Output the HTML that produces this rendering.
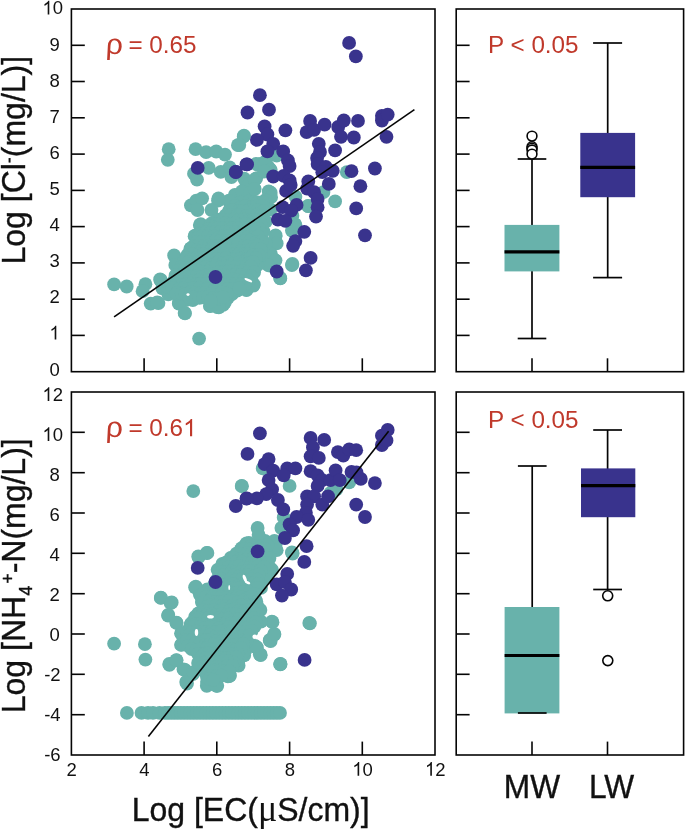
<!DOCTYPE html>
<html><head><meta charset="utf-8"><title>chart</title>
<style>html,body{margin:0;padding:0;background:#fff;}body{width:685px;height:829px;position:relative;overflow:hidden;font-family:"Liberation Sans",sans-serif;}</style>
</head><body>
<svg width="685" height="829" viewBox="0 0 685 829" style="position:absolute;left:0;top:0;will-change:transform" font-family="Liberation Sans, sans-serif">
<rect width="685" height="829" fill="#fff"/>
<g fill="#68b2ab">
<circle cx="168.7" cy="149.2" r="6.9"/>
<circle cx="167.8" cy="159.8" r="6.9"/>
<circle cx="195.6" cy="149.2" r="6.9"/>
<circle cx="206.1" cy="152.2" r="6.9"/>
<circle cx="216.2" cy="151.5" r="6.9"/>
<circle cx="225" cy="154.6" r="6.9"/>
<circle cx="237.9" cy="145.2" r="6.9"/>
<circle cx="243.7" cy="136.4" r="6.9"/>
<circle cx="208.7" cy="167.9" r="6.9"/>
<circle cx="220.8" cy="171.9" r="6.9"/>
<circle cx="231.4" cy="177" r="6.9"/>
<circle cx="194" cy="173.7" r="6.9"/>
<circle cx="197" cy="179.6" r="6.9"/>
<circle cx="229.6" cy="167.4" r="6.9"/>
<circle cx="190.9" cy="205.3" r="6.9"/>
<circle cx="196.3" cy="200.6" r="6.9"/>
<circle cx="202.1" cy="198.3" r="6.9"/>
<circle cx="197.5" cy="210" r="6.9"/>
<circle cx="218" cy="200.6" r="6.9"/>
<circle cx="211.5" cy="210" r="6.9"/>
<circle cx="234.9" cy="197.1" r="6.9"/>
<circle cx="229.6" cy="202.4" r="6.9"/>
<circle cx="199.8" cy="225.1" r="6.9"/>
<circle cx="195.1" cy="235.7" r="6.9"/>
<circle cx="216.2" cy="225.1" r="6.9"/>
<circle cx="174.1" cy="255.5" r="6.9"/>
<circle cx="175.3" cy="264.9" r="6.9"/>
<circle cx="190.5" cy="250.8" r="6.9"/>
<circle cx="185.8" cy="257.9" r="6.9"/>
<circle cx="160.1" cy="279.5" r="6.9"/>
<circle cx="114.1" cy="284.4" r="6.9"/>
<circle cx="126.7" cy="286.5" r="6.9"/>
<circle cx="145.4" cy="284.2" r="6.9"/>
<circle cx="142.6" cy="291.2" r="6.9"/>
<circle cx="160.8" cy="280.2" r="6.9"/>
<circle cx="150.7" cy="303.6" r="6.9"/>
<circle cx="158.5" cy="303.1" r="6.9"/>
<circle cx="162.4" cy="288.4" r="6.9"/>
<circle cx="168.3" cy="294.3" r="6.9"/>
<circle cx="178.8" cy="303.6" r="6.9"/>
<circle cx="184.6" cy="312.9" r="6.9"/>
<circle cx="185.8" cy="300.1" r="6.9"/>
<circle cx="192.8" cy="300.1" r="6.9"/>
<circle cx="199.1" cy="338.6" r="6.9"/>
<circle cx="209.9" cy="305.9" r="6.9"/>
<circle cx="217.3" cy="307.1" r="6.9"/>
<circle cx="223.2" cy="304.8" r="6.9"/>
<circle cx="227.9" cy="297.8" r="6.9"/>
<circle cx="237.2" cy="290.7" r="6.9"/>
<circle cx="246.5" cy="289.6" r="6.9"/>
<circle cx="202.1" cy="294.3" r="6.9"/>
<circle cx="171.8" cy="283.7" r="6.9"/>
<circle cx="183.5" cy="283.7" r="6.9"/>
<circle cx="244" cy="135.7" r="6.9"/>
<circle cx="239.3" cy="145" r="6.9"/>
<circle cx="276.7" cy="155.5" r="6.9"/>
<circle cx="265" cy="162.5" r="6.9"/>
<circle cx="258" cy="164.9" r="6.9"/>
<circle cx="269.7" cy="169.5" r="6.9"/>
<circle cx="346.8" cy="172.2" r="6.9"/>
<circle cx="335.1" cy="201.4" r="6.9"/>
<circle cx="323.5" cy="192.1" r="6.9"/>
<circle cx="308.3" cy="206.1" r="6.9"/>
<circle cx="295.4" cy="224.8" r="6.9"/>
<circle cx="291.9" cy="230.6" r="6.9"/>
<circle cx="275.6" cy="235.3" r="6.9"/>
<circle cx="275.6" cy="242.3" r="6.9"/>
<circle cx="270.9" cy="254" r="6.9"/>
<circle cx="274.4" cy="259.8" r="6.9"/>
<circle cx="269.7" cy="265.7" r="6.9"/>
<circle cx="291.9" cy="265" r="6.9"/>
<circle cx="280.2" cy="278" r="6.9"/>
<circle cx="295.4" cy="196.7" r="6.9"/>
<circle cx="269.7" cy="193.2" r="6.9"/>
<circle cx="260.4" cy="164" r="6.9"/>
<circle cx="268.6" cy="167.5" r="6.9"/>
<circle cx="275.6" cy="154.7" r="6.9"/>
<circle cx="253.4" cy="285.5" r="6.9"/>
<circle cx="246.4" cy="290.2" r="6.9"/>
<circle cx="234.7" cy="287.9" r="6.9"/>
<circle cx="246.5" cy="185.5" r="6.9"/>
<circle cx="256.2" cy="178.3" r="6.9"/>
<circle cx="251.4" cy="200" r="6.9"/>
<circle cx="256.2" cy="163.8" r="6.9"/>
<circle cx="265.8" cy="161.4" r="6.9"/>
<circle cx="270.7" cy="169.8" r="6.9"/>
<circle cx="270.7" cy="209.6" r="6.9"/>
<circle cx="270.7" cy="192.7" r="6.9"/>
<circle cx="265.8" cy="200" r="6.9"/>
<circle cx="275.5" cy="236.2" r="6.9"/>
<circle cx="276.7" cy="243.4" r="6.9"/>
<circle cx="269.5" cy="253.1" r="6.9"/>
<circle cx="275.5" cy="260.3" r="6.9"/>
<circle cx="268.2" cy="265.1" r="6.9"/>
<circle cx="292.4" cy="263.9" r="6.9"/>
<circle cx="280.3" cy="278.4" r="6.9"/>
<circle cx="294.8" cy="224.1" r="6.9"/>
<circle cx="292.4" cy="215.7" r="6.9"/>
<circle cx="308.1" cy="206" r="6.9"/>
<circle cx="263.4" cy="231.4" r="6.9"/>
<circle cx="265.8" cy="221.7" r="6.9"/>
<circle cx="265.8" cy="243.4" r="6.9"/>
<circle cx="261" cy="255.5" r="6.9"/>
<circle cx="257.4" cy="265.1" r="6.9"/>
<circle cx="251.4" cy="274.8" r="6.9"/>
<circle cx="253.8" cy="284.4" r="6.9"/>
<circle cx="232" cy="294.1" r="6.9"/>
<circle cx="224.8" cy="302.5" r="6.9"/>
<circle cx="210.3" cy="306.2" r="6.9"/>
<circle cx="218.8" cy="307.4" r="6.9"/>
<circle cx="179" cy="302.5" r="6.9"/>
<circle cx="185" cy="313.4" r="6.9"/>
<circle cx="157.2" cy="302.5" r="6.9"/>
<circle cx="168.1" cy="286.9" r="6.9"/>
<circle cx="160.9" cy="280.8" r="6.9"/>
<circle cx="186.2" cy="260.3" r="6.9"/>
<circle cx="191" cy="248.2" r="6.9"/>
<circle cx="194.6" cy="236.2" r="6.9"/>
<circle cx="200.7" cy="224.1" r="6.9"/>
<circle cx="244.2" cy="178.6" r="6.9"/>
<circle cx="248.9" cy="184.4" r="6.9"/>
<circle cx="254.7" cy="179.7" r="6.9"/>
<circle cx="264.1" cy="171.5" r="6.9"/>
<circle cx="268.7" cy="191.4" r="6.9"/>
<circle cx="271.1" cy="197.2" r="6.9"/>
<circle cx="266.4" cy="200.7" r="6.9"/>
<circle cx="234.9" cy="194.9" r="6.9"/>
<circle cx="229" cy="200.7" r="6.9"/>
<circle cx="241.9" cy="191.4" r="6.9"/>
<circle cx="250" cy="192.6" r="6.9"/>
<circle cx="254.7" cy="189" r="6.9"/>
<circle cx="218.5" cy="198.4" r="6.9"/>
<circle cx="243.1" cy="201.6" r="6.9"/>
<circle cx="248.8" cy="201.5" r="6.9"/>
<circle cx="253.6" cy="202.1" r="6.9"/>
<circle cx="257.6" cy="202.3" r="6.9"/>
<circle cx="262.6" cy="202.2" r="6.9"/>
<circle cx="235.1" cy="205.8" r="6.9"/>
<circle cx="240.8" cy="207.3" r="6.9"/>
<circle cx="245.2" cy="206.1" r="6.9"/>
<circle cx="251.3" cy="207.6" r="6.9"/>
<circle cx="256.2" cy="206.5" r="6.9"/>
<circle cx="262.0" cy="205.8" r="6.9"/>
<circle cx="229.2" cy="210.6" r="6.9"/>
<circle cx="232.8" cy="210.2" r="6.9"/>
<circle cx="238.1" cy="211.6" r="6.9"/>
<circle cx="242.9" cy="211.2" r="6.9"/>
<circle cx="248.8" cy="210.7" r="6.9"/>
<circle cx="253.6" cy="210.1" r="6.9"/>
<circle cx="257.6" cy="210.4" r="6.9"/>
<circle cx="263.9" cy="210.8" r="6.9"/>
<circle cx="225.6" cy="215.5" r="6.9"/>
<circle cx="230.9" cy="214.9" r="6.9"/>
<circle cx="236.6" cy="215.7" r="6.9"/>
<circle cx="240.5" cy="215.5" r="6.9"/>
<circle cx="246.1" cy="216.1" r="6.9"/>
<circle cx="251.5" cy="214.9" r="6.9"/>
<circle cx="257.0" cy="214.6" r="6.9"/>
<circle cx="260.8" cy="215.8" r="6.9"/>
<circle cx="217.8" cy="219.6" r="6.9"/>
<circle cx="222.6" cy="220.0" r="6.9"/>
<circle cx="229.0" cy="219.8" r="6.9"/>
<circle cx="234.3" cy="219.3" r="6.9"/>
<circle cx="238.9" cy="219.8" r="6.9"/>
<circle cx="243.7" cy="219.6" r="6.9"/>
<circle cx="249.2" cy="220.5" r="6.9"/>
<circle cx="253.4" cy="220.0" r="6.9"/>
<circle cx="257.6" cy="220.1" r="6.9"/>
<circle cx="263.8" cy="220.6" r="6.9"/>
<circle cx="211.6" cy="223.5" r="6.9"/>
<circle cx="215.8" cy="224.3" r="6.9"/>
<circle cx="220.0" cy="223.9" r="6.9"/>
<circle cx="225.3" cy="223.2" r="6.9"/>
<circle cx="230.1" cy="224.5" r="6.9"/>
<circle cx="235.3" cy="223.5" r="6.9"/>
<circle cx="240.8" cy="224.7" r="6.9"/>
<circle cx="245.2" cy="223.9" r="6.9"/>
<circle cx="251.1" cy="224.7" r="6.9"/>
<circle cx="256.6" cy="224.7" r="6.9"/>
<circle cx="260.6" cy="223.8" r="6.9"/>
<circle cx="208.2" cy="229.1" r="6.9"/>
<circle cx="214.4" cy="227.6" r="6.9"/>
<circle cx="217.9" cy="227.8" r="6.9"/>
<circle cx="223.0" cy="228.3" r="6.9"/>
<circle cx="228.7" cy="227.8" r="6.9"/>
<circle cx="232.5" cy="228.1" r="6.9"/>
<circle cx="238.2" cy="228.4" r="6.9"/>
<circle cx="244.4" cy="228.7" r="6.9"/>
<circle cx="248.5" cy="228.5" r="6.9"/>
<circle cx="253.9" cy="227.4" r="6.9"/>
<circle cx="259.3" cy="228.9" r="6.9"/>
<circle cx="201.7" cy="233.2" r="6.9"/>
<circle cx="205.8" cy="232.4" r="6.9"/>
<circle cx="210.2" cy="232.9" r="6.9"/>
<circle cx="215.1" cy="231.8" r="6.9"/>
<circle cx="220.4" cy="232.0" r="6.9"/>
<circle cx="225.7" cy="231.7" r="6.9"/>
<circle cx="230.0" cy="231.9" r="6.9"/>
<circle cx="235.2" cy="232.4" r="6.9"/>
<circle cx="240.1" cy="233.4" r="6.9"/>
<circle cx="246.2" cy="231.9" r="6.9"/>
<circle cx="250.5" cy="232.3" r="6.9"/>
<circle cx="255.7" cy="231.9" r="6.9"/>
<circle cx="261.7" cy="233.6" r="6.9"/>
<circle cx="198.4" cy="236.9" r="6.9"/>
<circle cx="202.7" cy="236.2" r="6.9"/>
<circle cx="208.2" cy="236.5" r="6.9"/>
<circle cx="214.2" cy="236.3" r="6.9"/>
<circle cx="217.5" cy="237.9" r="6.9"/>
<circle cx="223.6" cy="236.3" r="6.9"/>
<circle cx="228.6" cy="236.0" r="6.9"/>
<circle cx="233.6" cy="237.9" r="6.9"/>
<circle cx="239.2" cy="237.4" r="6.9"/>
<circle cx="243.0" cy="236.7" r="6.9"/>
<circle cx="247.8" cy="237.5" r="6.9"/>
<circle cx="253.6" cy="237.5" r="6.9"/>
<circle cx="258.2" cy="236.4" r="6.9"/>
<circle cx="196.6" cy="242.3" r="6.9"/>
<circle cx="201.7" cy="241.9" r="6.9"/>
<circle cx="206.6" cy="241.8" r="6.9"/>
<circle cx="210.5" cy="241.3" r="6.9"/>
<circle cx="215.7" cy="240.4" r="6.9"/>
<circle cx="220.1" cy="240.9" r="6.9"/>
<circle cx="225.5" cy="241.7" r="6.9"/>
<circle cx="231.9" cy="241.2" r="6.9"/>
<circle cx="236.9" cy="242.3" r="6.9"/>
<circle cx="241.9" cy="241.0" r="6.9"/>
<circle cx="245.4" cy="240.8" r="6.9"/>
<circle cx="250.4" cy="240.7" r="6.9"/>
<circle cx="256.2" cy="242.1" r="6.9"/>
<circle cx="261.7" cy="241.3" r="6.9"/>
<circle cx="193.8" cy="246.2" r="6.9"/>
<circle cx="197.7" cy="246.0" r="6.9"/>
<circle cx="204.3" cy="246.2" r="6.9"/>
<circle cx="209.0" cy="245.6" r="6.9"/>
<circle cx="212.9" cy="246.2" r="6.9"/>
<circle cx="218.2" cy="246.2" r="6.9"/>
<circle cx="224.4" cy="245.4" r="6.9"/>
<circle cx="228.3" cy="246.5" r="6.9"/>
<circle cx="233.9" cy="245.0" r="6.9"/>
<circle cx="237.8" cy="244.9" r="6.9"/>
<circle cx="244.3" cy="246.2" r="6.9"/>
<circle cx="247.8" cy="246.3" r="6.9"/>
<circle cx="254.5" cy="245.9" r="6.9"/>
<circle cx="258.2" cy="245.7" r="6.9"/>
<circle cx="190.3" cy="249.0" r="6.9"/>
<circle cx="196.9" cy="250.3" r="6.9"/>
<circle cx="201.1" cy="250.8" r="6.9"/>
<circle cx="205.9" cy="250.7" r="6.9"/>
<circle cx="211.7" cy="249.4" r="6.9"/>
<circle cx="215.5" cy="249.5" r="6.9"/>
<circle cx="220.5" cy="250.1" r="6.9"/>
<circle cx="225.5" cy="249.8" r="6.9"/>
<circle cx="230.3" cy="250.8" r="6.9"/>
<circle cx="235.7" cy="249.9" r="6.9"/>
<circle cx="241.2" cy="250.8" r="6.9"/>
<circle cx="245.8" cy="250.8" r="6.9"/>
<circle cx="251.0" cy="250.0" r="6.9"/>
<circle cx="256.0" cy="249.0" r="6.9"/>
<circle cx="260.9" cy="249.3" r="6.9"/>
<circle cx="187.5" cy="254.9" r="6.9"/>
<circle cx="192.8" cy="254.2" r="6.9"/>
<circle cx="199.0" cy="254.4" r="6.9"/>
<circle cx="203.2" cy="254.3" r="6.9"/>
<circle cx="208.6" cy="254.9" r="6.9"/>
<circle cx="212.7" cy="254.4" r="6.9"/>
<circle cx="218.0" cy="253.8" r="6.9"/>
<circle cx="224.0" cy="254.3" r="6.9"/>
<circle cx="228.6" cy="254.8" r="6.9"/>
<circle cx="234.3" cy="254.2" r="6.9"/>
<circle cx="238.7" cy="254.3" r="6.9"/>
<circle cx="243.5" cy="254.7" r="6.9"/>
<circle cx="248.4" cy="254.4" r="6.9"/>
<circle cx="253.5" cy="255.2" r="6.9"/>
<circle cx="258.9" cy="255.0" r="6.9"/>
<circle cx="186.9" cy="258.1" r="6.9"/>
<circle cx="191.1" cy="259.5" r="6.9"/>
<circle cx="196.7" cy="257.9" r="6.9"/>
<circle cx="200.2" cy="258.5" r="6.9"/>
<circle cx="205.1" cy="258.1" r="6.9"/>
<circle cx="210.1" cy="259.0" r="6.9"/>
<circle cx="216.6" cy="259.4" r="6.9"/>
<circle cx="220.3" cy="259.1" r="6.9"/>
<circle cx="226.3" cy="257.9" r="6.9"/>
<circle cx="231.8" cy="259.6" r="6.9"/>
<circle cx="235.4" cy="259.5" r="6.9"/>
<circle cx="240.8" cy="258.6" r="6.9"/>
<circle cx="247.0" cy="259.3" r="6.9"/>
<circle cx="250.3" cy="258.5" r="6.9"/>
<circle cx="256.0" cy="258.3" r="6.9"/>
<circle cx="182.9" cy="262.6" r="6.9"/>
<circle cx="188.9" cy="262.0" r="6.9"/>
<circle cx="193.6" cy="262.8" r="6.9"/>
<circle cx="197.5" cy="262.6" r="6.9"/>
<circle cx="203.7" cy="263.0" r="6.9"/>
<circle cx="207.6" cy="263.9" r="6.9"/>
<circle cx="214.1" cy="263.9" r="6.9"/>
<circle cx="217.7" cy="262.5" r="6.9"/>
<circle cx="222.6" cy="263.5" r="6.9"/>
<circle cx="228.0" cy="262.2" r="6.9"/>
<circle cx="233.3" cy="263.8" r="6.9"/>
<circle cx="239.1" cy="262.5" r="6.9"/>
<circle cx="242.8" cy="263.8" r="6.9"/>
<circle cx="248.6" cy="263.4" r="6.9"/>
<circle cx="252.7" cy="262.1" r="6.9"/>
<circle cx="181.4" cy="267.1" r="6.9"/>
<circle cx="185.1" cy="268.2" r="6.9"/>
<circle cx="191.3" cy="267.9" r="6.9"/>
<circle cx="195.2" cy="268.0" r="6.9"/>
<circle cx="200.1" cy="268.0" r="6.9"/>
<circle cx="205.9" cy="267.0" r="6.9"/>
<circle cx="211.1" cy="268.1" r="6.9"/>
<circle cx="215.5" cy="266.5" r="6.9"/>
<circle cx="221.1" cy="266.8" r="6.9"/>
<circle cx="225.2" cy="266.6" r="6.9"/>
<circle cx="230.1" cy="266.7" r="6.9"/>
<circle cx="235.6" cy="266.9" r="6.9"/>
<circle cx="241.5" cy="266.9" r="6.9"/>
<circle cx="246.0" cy="266.6" r="6.9"/>
<circle cx="250.7" cy="266.3" r="6.9"/>
<circle cx="178.0" cy="270.6" r="6.9"/>
<circle cx="184.0" cy="271.7" r="6.9"/>
<circle cx="187.9" cy="271.6" r="6.9"/>
<circle cx="194.4" cy="270.8" r="6.9"/>
<circle cx="199.1" cy="271.5" r="6.9"/>
<circle cx="203.5" cy="272.3" r="6.9"/>
<circle cx="208.3" cy="271.6" r="6.9"/>
<circle cx="213.9" cy="272.6" r="6.9"/>
<circle cx="218.2" cy="272.3" r="6.9"/>
<circle cx="223.9" cy="271.9" r="6.9"/>
<circle cx="228.3" cy="271.3" r="6.9"/>
<circle cx="232.6" cy="270.9" r="6.9"/>
<circle cx="237.6" cy="272.1" r="6.9"/>
<circle cx="243.0" cy="270.9" r="6.9"/>
<circle cx="247.7" cy="272.3" r="6.9"/>
<circle cx="254.2" cy="272.0" r="6.9"/>
<circle cx="175.6" cy="275.4" r="6.9"/>
<circle cx="180.6" cy="275.9" r="6.9"/>
<circle cx="185.3" cy="275.8" r="6.9"/>
<circle cx="190.5" cy="276.9" r="6.9"/>
<circle cx="196.9" cy="276.0" r="6.9"/>
<circle cx="200.5" cy="276.9" r="6.9"/>
<circle cx="205.6" cy="275.7" r="6.9"/>
<circle cx="210.0" cy="275.7" r="6.9"/>
<circle cx="215.9" cy="275.9" r="6.9"/>
<circle cx="220.4" cy="275.9" r="6.9"/>
<circle cx="225.0" cy="275.5" r="6.9"/>
<circle cx="230.2" cy="275.7" r="6.9"/>
<circle cx="235.1" cy="275.0" r="6.9"/>
<circle cx="240.6" cy="275.4" r="6.9"/>
<circle cx="246.2" cy="276.0" r="6.9"/>
<circle cx="251.5" cy="276.3" r="6.9"/>
<circle cx="173.9" cy="281.0" r="6.9"/>
<circle cx="178.3" cy="279.9" r="6.9"/>
<circle cx="184.5" cy="279.6" r="6.9"/>
<circle cx="188.9" cy="280.6" r="6.9"/>
<circle cx="192.6" cy="280.9" r="6.9"/>
<circle cx="199.3" cy="280.5" r="6.9"/>
<circle cx="204.0" cy="280.9" r="6.9"/>
<circle cx="207.8" cy="280.3" r="6.9"/>
<circle cx="213.5" cy="280.9" r="6.9"/>
<circle cx="219.1" cy="280.9" r="6.9"/>
<circle cx="223.7" cy="281.1" r="6.9"/>
<circle cx="228.9" cy="280.7" r="6.9"/>
<circle cx="233.0" cy="279.3" r="6.9"/>
<circle cx="237.8" cy="280.0" r="6.9"/>
<circle cx="242.7" cy="280.9" r="6.9"/>
<circle cx="248.6" cy="280.5" r="6.9"/>
<circle cx="171.3" cy="285.0" r="6.9"/>
<circle cx="176.0" cy="283.6" r="6.9"/>
<circle cx="181.6" cy="285.1" r="6.9"/>
<circle cx="186.0" cy="284.7" r="6.9"/>
<circle cx="191.3" cy="283.7" r="6.9"/>
<circle cx="196.5" cy="284.1" r="6.9"/>
<circle cx="200.1" cy="284.1" r="6.9"/>
<circle cx="206.5" cy="284.0" r="6.9"/>
<circle cx="211.5" cy="285.6" r="6.9"/>
<circle cx="216.0" cy="284.4" r="6.9"/>
<circle cx="221.0" cy="285.0" r="6.9"/>
<circle cx="226.5" cy="284.8" r="6.9"/>
<circle cx="231.3" cy="283.8" r="6.9"/>
<circle cx="235.3" cy="284.1" r="6.9"/>
<circle cx="241.5" cy="284.2" r="6.9"/>
<circle cx="246.1" cy="283.6" r="6.9"/>
<circle cx="172.6" cy="288.5" r="6.9"/>
<circle cx="178.8" cy="289.3" r="6.9"/>
<circle cx="183.9" cy="288.5" r="6.9"/>
<circle cx="188.5" cy="288.9" r="6.9"/>
<circle cx="193.4" cy="288.2" r="6.9"/>
<circle cx="199.3" cy="288.3" r="6.9"/>
<circle cx="204.5" cy="289.8" r="6.9"/>
<circle cx="207.5" cy="288.8" r="6.9"/>
<circle cx="214.1" cy="289.9" r="6.9"/>
<circle cx="218.4" cy="288.5" r="6.9"/>
<circle cx="222.9" cy="289.8" r="6.9"/>
<circle cx="227.9" cy="289.1" r="6.9"/>
<circle cx="232.8" cy="289.0" r="6.9"/>
<circle cx="239.4" cy="288.2" r="6.9"/>
<circle cx="176.6" cy="293.3" r="6.9"/>
<circle cx="181.8" cy="293.7" r="6.9"/>
<circle cx="185.5" cy="294.1" r="6.9"/>
<circle cx="191.0" cy="292.3" r="6.9"/>
<circle cx="195.0" cy="293.2" r="6.9"/>
<circle cx="200.9" cy="292.9" r="6.9"/>
<circle cx="205.3" cy="292.9" r="6.9"/>
<circle cx="210.6" cy="293.9" r="6.9"/>
<circle cx="215.0" cy="293.8" r="6.9"/>
<circle cx="221.7" cy="292.5" r="6.9"/>
<circle cx="226.9" cy="293.7" r="6.9"/>
<circle cx="189.3" cy="297.2" r="6.9"/>
<circle cx="193.2" cy="297.4" r="6.9"/>
<circle cx="199.5" cy="297.8" r="6.9"/>
<circle cx="203.2" cy="297.4" r="6.9"/>
<circle cx="208.1" cy="296.7" r="6.9"/>
<circle cx="212.7" cy="298.3" r="6.9"/>
<circle cx="218.1" cy="298.5" r="6.9"/>
<circle cx="223.0" cy="297.1" r="6.9"/>
<circle cx="211.0" cy="301.3" r="6.9"/>
<circle cx="193.3" cy="491.1" r="6.9"/>
<circle cx="241.9" cy="486.2" r="6.9"/>
<circle cx="198.6" cy="557" r="6.9"/>
<circle cx="206.8" cy="553" r="6.9"/>
<circle cx="160.8" cy="597.9" r="6.9"/>
<circle cx="170.6" cy="603" r="6.9"/>
<circle cx="168.3" cy="615" r="6.9"/>
<circle cx="195.1" cy="587.3" r="6.9"/>
<circle cx="199.8" cy="594.3" r="6.9"/>
<circle cx="202.1" cy="602.5" r="6.9"/>
<circle cx="195.1" cy="617" r="6.9"/>
<circle cx="218.5" cy="569.8" r="6.9"/>
<circle cx="225.5" cy="562.8" r="6.9"/>
<circle cx="231.4" cy="558.1" r="6.9"/>
<circle cx="243" cy="548.8" r="6.9"/>
<circle cx="248.9" cy="542.9" r="6.9"/>
<circle cx="114.1" cy="643.7" r="6.9"/>
<circle cx="144.9" cy="644.2" r="6.9"/>
<circle cx="145.4" cy="659.6" r="6.9"/>
<circle cx="176.4" cy="622.7" r="6.9"/>
<circle cx="181.1" cy="633.2" r="6.9"/>
<circle cx="181.1" cy="644.9" r="6.9"/>
<circle cx="169.4" cy="664.8" r="6.9"/>
<circle cx="176.4" cy="660.1" r="6.9"/>
<circle cx="183.5" cy="669.4" r="6.9"/>
<circle cx="187" cy="683.5" r="6.9"/>
<circle cx="192.8" cy="674.1" r="6.9"/>
<circle cx="206.8" cy="685.8" r="6.9"/>
<circle cx="217.3" cy="685.8" r="6.9"/>
<circle cx="227.9" cy="676.4" r="6.9"/>
<circle cx="237.2" cy="664.8" r="6.9"/>
<circle cx="244.2" cy="655.4" r="6.9"/>
<circle cx="202.1" cy="601.7" r="6.9"/>
<circle cx="190.5" cy="625" r="6.9"/>
<circle cx="241.7" cy="485.9" r="6.9"/>
<circle cx="289.6" cy="485.9" r="6.9"/>
<circle cx="262.7" cy="468.4" r="6.9"/>
<circle cx="336.3" cy="489.4" r="6.9"/>
<circle cx="349.2" cy="482.4" r="6.9"/>
<circle cx="330.5" cy="493" r="6.9"/>
<circle cx="257.6" cy="528" r="6.9"/>
<circle cx="283.7" cy="517.5" r="6.9"/>
<circle cx="281.4" cy="528" r="6.9"/>
<circle cx="246.4" cy="544.3" r="6.9"/>
<circle cx="240.5" cy="550.2" r="6.9"/>
<circle cx="265" cy="540.8" r="6.9"/>
<circle cx="274.4" cy="540.8" r="6.9"/>
<circle cx="291.9" cy="552.5" r="6.9"/>
<circle cx="233.5" cy="559.5" r="6.9"/>
<circle cx="276.7" cy="550.2" r="6.9"/>
<circle cx="267.4" cy="561.9" r="6.9"/>
<circle cx="292.6" cy="553.6" r="6.9"/>
<circle cx="309.9" cy="623.4" r="6.9"/>
<circle cx="280.2" cy="664.3" r="6.9"/>
<circle cx="272.5" cy="622.2" r="6.9"/>
<circle cx="274.4" cy="634.6" r="6.9"/>
<circle cx="269.7" cy="640.5" r="6.9"/>
<circle cx="260.4" cy="654.5" r="6.9"/>
<circle cx="256.9" cy="647.5" r="6.9"/>
<circle cx="238.2" cy="663.8" r="6.9"/>
<circle cx="230" cy="675.5" r="6.9"/>
<circle cx="260.4" cy="610" r="6.9"/>
<circle cx="255.7" cy="600.7" r="6.9"/>
<circle cx="272" cy="570" r="6.9"/>
<circle cx="267.4" cy="577.4" r="6.9"/>
<circle cx="274.4" cy="547" r="6.9"/>
<circle cx="244" cy="547" r="6.9"/>
<circle cx="216.4" cy="685.6" r="6.9"/>
<circle cx="207" cy="682" r="6.9"/>
<circle cx="229.2" cy="676.2" r="6.9"/>
<circle cx="238.6" cy="665.7" r="6.9"/>
<circle cx="260.7" cy="655.2" r="6.9"/>
<circle cx="256" cy="647" r="6.9"/>
<circle cx="280.6" cy="664.1" r="6.9"/>
<circle cx="270" cy="640" r="6.9"/>
<circle cx="198.3" cy="556.5" r="6.9"/>
<circle cx="207.4" cy="552.9" r="6.9"/>
<circle cx="160.9" cy="597.6" r="6.9"/>
<circle cx="171.7" cy="602.4" r="6.9"/>
<circle cx="168.1" cy="615.7" r="6.9"/>
<circle cx="176.5" cy="622.9" r="6.9"/>
<circle cx="181.4" cy="633.8" r="6.9"/>
<circle cx="181.4" cy="644.6" r="6.9"/>
<circle cx="169.3" cy="663.9" r="6.9"/>
<circle cx="176.5" cy="660.3" r="6.9"/>
<circle cx="185" cy="670" r="6.9"/>
<circle cx="186.2" cy="682" r="6.9"/>
<circle cx="193.4" cy="672.4" r="6.9"/>
<circle cx="207.9" cy="684.4" r="6.9"/>
<circle cx="216.4" cy="685.7" r="6.9"/>
<circle cx="227.2" cy="674.8" r="6.9"/>
<circle cx="238.1" cy="663.9" r="6.9"/>
<circle cx="245.3" cy="650.7" r="6.9"/>
<circle cx="259.8" cy="654.3" r="6.9"/>
<circle cx="255" cy="645.8" r="6.9"/>
<circle cx="280.3" cy="663.9" r="6.9"/>
<circle cx="270.7" cy="641" r="6.9"/>
<circle cx="274.3" cy="633.8" r="6.9"/>
<circle cx="271.9" cy="621.7" r="6.9"/>
<circle cx="261" cy="621.7" r="6.9"/>
<circle cx="258.6" cy="609.6" r="6.9"/>
<circle cx="256.2" cy="601.2" r="6.9"/>
<circle cx="195.8" cy="586.7" r="6.9"/>
<circle cx="200.7" cy="595.2" r="6.9"/>
<circle cx="204.3" cy="602.4" r="6.9"/>
<circle cx="195.8" cy="618.1" r="6.9"/>
<circle cx="191" cy="624.1" r="6.9"/>
<circle cx="198.3" cy="613.3" r="6.9"/>
<circle cx="217.6" cy="569.8" r="6.9"/>
<circle cx="222.4" cy="563.8" r="6.9"/>
<circle cx="230.8" cy="557.8" r="6.9"/>
<circle cx="241.7" cy="548.1" r="6.9"/>
<circle cx="246.5" cy="543.3" r="6.9"/>
<circle cx="258.6" cy="534.8" r="6.9"/>
<circle cx="292.4" cy="552.9" r="6.9"/>
<circle cx="275.5" cy="544.5" r="6.9"/>
<circle cx="270.7" cy="568.6" r="6.9"/>
<circle cx="265.8" cy="578.3" r="6.9"/>
<circle cx="261" cy="587.9" r="6.9"/>
<circle cx="309.3" cy="622.9" r="6.9"/>
<circle cx="251.2" cy="546.2" r="6.9"/>
<circle cx="257.3" cy="546.0" r="6.9"/>
<circle cx="261.8" cy="546.2" r="6.9"/>
<circle cx="267.4" cy="545.4" r="6.9"/>
<circle cx="244.4" cy="548.8" r="6.9"/>
<circle cx="249.5" cy="549.6" r="6.9"/>
<circle cx="254.5" cy="549.9" r="6.9"/>
<circle cx="258.6" cy="548.8" r="6.9"/>
<circle cx="264.9" cy="548.9" r="6.9"/>
<circle cx="236.4" cy="553.7" r="6.9"/>
<circle cx="241.1" cy="554.5" r="6.9"/>
<circle cx="247.5" cy="553.5" r="6.9"/>
<circle cx="251.8" cy="553.6" r="6.9"/>
<circle cx="256.6" cy="553.8" r="6.9"/>
<circle cx="260.8" cy="553.3" r="6.9"/>
<circle cx="265.9" cy="554.8" r="6.9"/>
<circle cx="234.0" cy="557.8" r="6.9"/>
<circle cx="239.8" cy="559.3" r="6.9"/>
<circle cx="243.9" cy="557.6" r="6.9"/>
<circle cx="248.4" cy="557.5" r="6.9"/>
<circle cx="253.7" cy="557.5" r="6.9"/>
<circle cx="258.5" cy="557.8" r="6.9"/>
<circle cx="264.1" cy="559.1" r="6.9"/>
<circle cx="269.5" cy="558.1" r="6.9"/>
<circle cx="226.3" cy="562.7" r="6.9"/>
<circle cx="231.3" cy="562.3" r="6.9"/>
<circle cx="235.6" cy="562.2" r="6.9"/>
<circle cx="242.4" cy="561.9" r="6.9"/>
<circle cx="246.5" cy="562.9" r="6.9"/>
<circle cx="252.2" cy="562.1" r="6.9"/>
<circle cx="256.0" cy="562.1" r="6.9"/>
<circle cx="261.3" cy="562.5" r="6.9"/>
<circle cx="267.4" cy="563.3" r="6.9"/>
<circle cx="224.7" cy="566.0" r="6.9"/>
<circle cx="228.1" cy="567.4" r="6.9"/>
<circle cx="234.8" cy="566.9" r="6.9"/>
<circle cx="239.2" cy="566.0" r="6.9"/>
<circle cx="243.8" cy="567.8" r="6.9"/>
<circle cx="249.7" cy="567.7" r="6.9"/>
<circle cx="254.9" cy="566.5" r="6.9"/>
<circle cx="258.2" cy="566.3" r="6.9"/>
<circle cx="264.0" cy="567.3" r="6.9"/>
<circle cx="222.4" cy="571.8" r="6.9"/>
<circle cx="226.8" cy="571.8" r="6.9"/>
<circle cx="231.4" cy="571.4" r="6.9"/>
<circle cx="235.6" cy="571.9" r="6.9"/>
<circle cx="241.0" cy="572.1" r="6.9"/>
<circle cx="246.8" cy="570.9" r="6.9"/>
<circle cx="250.8" cy="570.8" r="6.9"/>
<circle cx="256.8" cy="571.7" r="6.9"/>
<circle cx="260.7" cy="570.5" r="6.9"/>
<circle cx="219.0" cy="575.8" r="6.9"/>
<circle cx="223.8" cy="575.1" r="6.9"/>
<circle cx="229.2" cy="574.7" r="6.9"/>
<circle cx="233.6" cy="575.6" r="6.9"/>
<circle cx="239.9" cy="575.9" r="6.9"/>
<circle cx="244.8" cy="575.6" r="6.9"/>
<circle cx="248.5" cy="575.1" r="6.9"/>
<circle cx="254.9" cy="576.0" r="6.9"/>
<circle cx="258.6" cy="574.7" r="6.9"/>
<circle cx="216.5" cy="580.3" r="6.9"/>
<circle cx="221.3" cy="579.5" r="6.9"/>
<circle cx="226.8" cy="580.8" r="6.9"/>
<circle cx="231.0" cy="579.0" r="6.9"/>
<circle cx="236.2" cy="579.8" r="6.9"/>
<circle cx="241.9" cy="579.4" r="6.9"/>
<circle cx="247.1" cy="580.4" r="6.9"/>
<circle cx="251.5" cy="579.4" r="6.9"/>
<circle cx="257.4" cy="579.6" r="6.9"/>
<circle cx="214.6" cy="583.8" r="6.9"/>
<circle cx="218.4" cy="584.8" r="6.9"/>
<circle cx="223.6" cy="585.2" r="6.9"/>
<circle cx="229.0" cy="583.7" r="6.9"/>
<circle cx="233.4" cy="584.1" r="6.9"/>
<circle cx="239.3" cy="585.2" r="6.9"/>
<circle cx="243.3" cy="584.1" r="6.9"/>
<circle cx="248.4" cy="585.2" r="6.9"/>
<circle cx="253.3" cy="583.4" r="6.9"/>
<circle cx="258.1" cy="584.1" r="6.9"/>
<circle cx="207.3" cy="589.4" r="6.9"/>
<circle cx="212.0" cy="589.6" r="6.9"/>
<circle cx="217.4" cy="588.3" r="6.9"/>
<circle cx="220.9" cy="589.5" r="6.9"/>
<circle cx="227.0" cy="587.7" r="6.9"/>
<circle cx="231.8" cy="588.4" r="6.9"/>
<circle cx="236.2" cy="588.3" r="6.9"/>
<circle cx="240.8" cy="587.6" r="6.9"/>
<circle cx="246.1" cy="588.3" r="6.9"/>
<circle cx="252.4" cy="587.9" r="6.9"/>
<circle cx="257.4" cy="588.0" r="6.9"/>
<circle cx="203.7" cy="593.6" r="6.9"/>
<circle cx="209.6" cy="592.8" r="6.9"/>
<circle cx="213.1" cy="592.9" r="6.9"/>
<circle cx="218.7" cy="593.8" r="6.9"/>
<circle cx="223.4" cy="592.7" r="6.9"/>
<circle cx="229.8" cy="592.0" r="6.9"/>
<circle cx="233.8" cy="593.6" r="6.9"/>
<circle cx="239.5" cy="592.0" r="6.9"/>
<circle cx="243.1" cy="592.1" r="6.9"/>
<circle cx="249.8" cy="592.5" r="6.9"/>
<circle cx="254.5" cy="593.8" r="6.9"/>
<circle cx="206.2" cy="596.8" r="6.9"/>
<circle cx="212.4" cy="597.5" r="6.9"/>
<circle cx="216.0" cy="597.7" r="6.9"/>
<circle cx="221.1" cy="596.8" r="6.9"/>
<circle cx="225.5" cy="597.8" r="6.9"/>
<circle cx="232.3" cy="597.6" r="6.9"/>
<circle cx="237.4" cy="596.3" r="6.9"/>
<circle cx="241.0" cy="597.2" r="6.9"/>
<circle cx="247.4" cy="598.2" r="6.9"/>
<circle cx="251.3" cy="596.8" r="6.9"/>
<circle cx="203.9" cy="601.6" r="6.9"/>
<circle cx="209.9" cy="601.0" r="6.9"/>
<circle cx="214.6" cy="602.1" r="6.9"/>
<circle cx="219.6" cy="602.2" r="6.9"/>
<circle cx="224.2" cy="601.3" r="6.9"/>
<circle cx="228.6" cy="601.3" r="6.9"/>
<circle cx="234.6" cy="600.8" r="6.9"/>
<circle cx="238.4" cy="602.1" r="6.9"/>
<circle cx="243.5" cy="600.7" r="6.9"/>
<circle cx="248.1" cy="601.7" r="6.9"/>
<circle cx="253.7" cy="602.6" r="6.9"/>
<circle cx="207.3" cy="606.9" r="6.9"/>
<circle cx="211.0" cy="605.1" r="6.9"/>
<circle cx="215.7" cy="605.9" r="6.9"/>
<circle cx="221.9" cy="605.8" r="6.9"/>
<circle cx="226.0" cy="605.8" r="6.9"/>
<circle cx="231.7" cy="606.3" r="6.9"/>
<circle cx="237.0" cy="606.6" r="6.9"/>
<circle cx="241.8" cy="605.2" r="6.9"/>
<circle cx="247.2" cy="605.5" r="6.9"/>
<circle cx="251.6" cy="605.7" r="6.9"/>
<circle cx="257.0" cy="605.3" r="6.9"/>
<circle cx="203.5" cy="609.8" r="6.9"/>
<circle cx="208.3" cy="611.0" r="6.9"/>
<circle cx="214.2" cy="609.9" r="6.9"/>
<circle cx="218.8" cy="611.3" r="6.9"/>
<circle cx="224.0" cy="609.7" r="6.9"/>
<circle cx="229.6" cy="610.6" r="6.9"/>
<circle cx="235.0" cy="609.5" r="6.9"/>
<circle cx="238.9" cy="610.9" r="6.9"/>
<circle cx="244.7" cy="611.1" r="6.9"/>
<circle cx="248.1" cy="609.9" r="6.9"/>
<circle cx="253.2" cy="609.7" r="6.9"/>
<circle cx="202.4" cy="614.8" r="6.9"/>
<circle cx="207.4" cy="614.4" r="6.9"/>
<circle cx="212.2" cy="614.5" r="6.9"/>
<circle cx="216.0" cy="615.2" r="6.9"/>
<circle cx="222.4" cy="613.8" r="6.9"/>
<circle cx="226.7" cy="614.8" r="6.9"/>
<circle cx="230.9" cy="614.3" r="6.9"/>
<circle cx="235.8" cy="614.0" r="6.9"/>
<circle cx="241.0" cy="614.8" r="6.9"/>
<circle cx="246.8" cy="614.0" r="6.9"/>
<circle cx="250.5" cy="614.3" r="6.9"/>
<circle cx="256.9" cy="614.0" r="6.9"/>
<circle cx="198.6" cy="618.3" r="6.9"/>
<circle cx="204.6" cy="619.0" r="6.9"/>
<circle cx="208.1" cy="618.1" r="6.9"/>
<circle cx="213.8" cy="619.0" r="6.9"/>
<circle cx="219.3" cy="618.1" r="6.9"/>
<circle cx="223.3" cy="619.3" r="6.9"/>
<circle cx="228.8" cy="618.5" r="6.9"/>
<circle cx="233.6" cy="619.8" r="6.9"/>
<circle cx="238.6" cy="619.1" r="6.9"/>
<circle cx="243.7" cy="618.8" r="6.9"/>
<circle cx="249.7" cy="619.9" r="6.9"/>
<circle cx="253.7" cy="618.3" r="6.9"/>
<circle cx="192.0" cy="622.7" r="6.9"/>
<circle cx="195.5" cy="624.1" r="6.9"/>
<circle cx="201.3" cy="623.9" r="6.9"/>
<circle cx="206.3" cy="624.0" r="6.9"/>
<circle cx="211.4" cy="622.6" r="6.9"/>
<circle cx="215.5" cy="623.4" r="6.9"/>
<circle cx="221.8" cy="624.1" r="6.9"/>
<circle cx="225.7" cy="623.5" r="6.9"/>
<circle cx="231.2" cy="623.3" r="6.9"/>
<circle cx="235.8" cy="622.8" r="6.9"/>
<circle cx="241.5" cy="624.1" r="6.9"/>
<circle cx="245.7" cy="623.3" r="6.9"/>
<circle cx="252.1" cy="624.2" r="6.9"/>
<circle cx="255.9" cy="622.5" r="6.9"/>
<circle cx="189.9" cy="628.6" r="6.9"/>
<circle cx="194.0" cy="626.7" r="6.9"/>
<circle cx="199.9" cy="627.4" r="6.9"/>
<circle cx="204.8" cy="627.8" r="6.9"/>
<circle cx="209.6" cy="626.9" r="6.9"/>
<circle cx="214.6" cy="627.0" r="6.9"/>
<circle cx="218.8" cy="628.3" r="6.9"/>
<circle cx="224.7" cy="627.0" r="6.9"/>
<circle cx="228.4" cy="627.4" r="6.9"/>
<circle cx="234.0" cy="627.4" r="6.9"/>
<circle cx="238.2" cy="627.1" r="6.9"/>
<circle cx="244.4" cy="628.4" r="6.9"/>
<circle cx="248.1" cy="627.7" r="6.9"/>
<circle cx="254.5" cy="626.7" r="6.9"/>
<circle cx="187.2" cy="631.2" r="6.9"/>
<circle cx="191.7" cy="632.0" r="6.9"/>
<circle cx="196.8" cy="631.5" r="6.9"/>
<circle cx="201.3" cy="632.1" r="6.9"/>
<circle cx="206.4" cy="632.2" r="6.9"/>
<circle cx="211.4" cy="631.8" r="6.9"/>
<circle cx="215.5" cy="632.2" r="6.9"/>
<circle cx="221.5" cy="631.4" r="6.9"/>
<circle cx="227.0" cy="632.5" r="6.9"/>
<circle cx="231.4" cy="631.3" r="6.9"/>
<circle cx="236.4" cy="631.1" r="6.9"/>
<circle cx="240.8" cy="631.8" r="6.9"/>
<circle cx="245.7" cy="631.8" r="6.9"/>
<circle cx="251.5" cy="631.0" r="6.9"/>
<circle cx="189.3" cy="635.4" r="6.9"/>
<circle cx="194.5" cy="636.8" r="6.9"/>
<circle cx="199.0" cy="635.4" r="6.9"/>
<circle cx="204.0" cy="636.0" r="6.9"/>
<circle cx="209.9" cy="635.5" r="6.9"/>
<circle cx="214.7" cy="637.3" r="6.9"/>
<circle cx="219.5" cy="636.9" r="6.9"/>
<circle cx="223.4" cy="637.2" r="6.9"/>
<circle cx="229.0" cy="637.2" r="6.9"/>
<circle cx="234.8" cy="635.6" r="6.9"/>
<circle cx="239.6" cy="637.1" r="6.9"/>
<circle cx="243.1" cy="636.0" r="6.9"/>
<circle cx="249.5" cy="635.6" r="6.9"/>
<circle cx="187.3" cy="640.1" r="6.9"/>
<circle cx="192.1" cy="639.9" r="6.9"/>
<circle cx="196.5" cy="641.4" r="6.9"/>
<circle cx="200.9" cy="640.1" r="6.9"/>
<circle cx="206.5" cy="640.2" r="6.9"/>
<circle cx="210.6" cy="640.0" r="6.9"/>
<circle cx="215.8" cy="641.5" r="6.9"/>
<circle cx="221.9" cy="641.4" r="6.9"/>
<circle cx="225.8" cy="641.2" r="6.9"/>
<circle cx="230.7" cy="640.7" r="6.9"/>
<circle cx="236.8" cy="640.3" r="6.9"/>
<circle cx="242.2" cy="640.7" r="6.9"/>
<circle cx="246.7" cy="641.4" r="6.9"/>
<circle cx="188.2" cy="645.9" r="6.9"/>
<circle cx="194.3" cy="644.7" r="6.9"/>
<circle cx="199.6" cy="644.4" r="6.9"/>
<circle cx="205.0" cy="645.1" r="6.9"/>
<circle cx="208.7" cy="645.4" r="6.9"/>
<circle cx="213.9" cy="644.3" r="6.9"/>
<circle cx="219.5" cy="644.0" r="6.9"/>
<circle cx="224.6" cy="644.4" r="6.9"/>
<circle cx="229.3" cy="645.9" r="6.9"/>
<circle cx="234.2" cy="645.2" r="6.9"/>
<circle cx="238.6" cy="643.9" r="6.9"/>
<circle cx="243.1" cy="644.2" r="6.9"/>
<circle cx="191.7" cy="649.1" r="6.9"/>
<circle cx="196.5" cy="650.0" r="6.9"/>
<circle cx="200.8" cy="648.7" r="6.9"/>
<circle cx="206.8" cy="648.3" r="6.9"/>
<circle cx="210.5" cy="649.0" r="6.9"/>
<circle cx="215.7" cy="649.0" r="6.9"/>
<circle cx="220.9" cy="649.4" r="6.9"/>
<circle cx="226.7" cy="648.7" r="6.9"/>
<circle cx="231.7" cy="649.2" r="6.9"/>
<circle cx="235.8" cy="650.1" r="6.9"/>
<circle cx="241.0" cy="648.5" r="6.9"/>
<circle cx="198.2" cy="653.9" r="6.9"/>
<circle cx="204.7" cy="654.1" r="6.9"/>
<circle cx="208.8" cy="653.1" r="6.9"/>
<circle cx="213.0" cy="653.9" r="6.9"/>
<circle cx="219.1" cy="653.3" r="6.9"/>
<circle cx="224.3" cy="653.5" r="6.9"/>
<circle cx="229.9" cy="654.0" r="6.9"/>
<circle cx="233.5" cy="654.4" r="6.9"/>
<circle cx="238.1" cy="653.6" r="6.9"/>
<circle cx="201.3" cy="657.4" r="6.9"/>
<circle cx="205.6" cy="658.5" r="6.9"/>
<circle cx="210.5" cy="658.0" r="6.9"/>
<circle cx="217.4" cy="657.2" r="6.9"/>
<circle cx="220.9" cy="658.1" r="6.9"/>
<circle cx="226.5" cy="658.2" r="6.9"/>
<circle cx="232.1" cy="657.3" r="6.9"/>
<circle cx="236.1" cy="657.5" r="6.9"/>
<circle cx="198.1" cy="663.0" r="6.9"/>
<circle cx="204.6" cy="662.7" r="6.9"/>
<circle cx="208.0" cy="662.9" r="6.9"/>
<circle cx="214.5" cy="662.2" r="6.9"/>
<circle cx="219.5" cy="662.1" r="6.9"/>
<circle cx="223.5" cy="661.5" r="6.9"/>
<circle cx="228.5" cy="661.3" r="6.9"/>
<circle cx="233.7" cy="662.7" r="6.9"/>
<circle cx="201.9" cy="667.3" r="6.9"/>
<circle cx="206.9" cy="666.1" r="6.9"/>
<circle cx="211.6" cy="666.4" r="6.9"/>
<circle cx="217.1" cy="666.6" r="6.9"/>
<circle cx="221.0" cy="666.9" r="6.9"/>
<circle cx="227.4" cy="666.0" r="6.9"/>
<circle cx="232.3" cy="665.6" r="6.9"/>
<circle cx="203.5" cy="670.4" r="6.9"/>
<circle cx="209.5" cy="671.8" r="6.9"/>
<circle cx="214.5" cy="670.6" r="6.9"/>
<circle cx="219.8" cy="670.6" r="6.9"/>
<circle cx="223.5" cy="671.7" r="6.9"/>
<circle cx="229.3" cy="671.3" r="6.9"/>
<circle cx="206.8" cy="676.2" r="6.9"/>
<circle cx="211.4" cy="675.9" r="6.9"/>
<circle cx="216.9" cy="675.9" r="6.9"/>
<circle cx="221.4" cy="675.7" r="6.9"/>
<circle cx="209.1" cy="679.2" r="6.9"/>
<circle cx="213.4" cy="679.8" r="6.9"/>
<circle cx="126.9" cy="712.9" r="6.9"/>
<circle cx="141.5" cy="712.9" r="6.9"/>
<circle cx="148" cy="712.9" r="6.9"/>
<circle cx="153" cy="712.9" r="6.9"/>
<circle cx="159.5" cy="712.9" r="6.9"/>
<circle cx="164.8" cy="712.9" r="6.9"/>
<circle cx="168.0" cy="712.9" r="6.9"/>
<circle cx="171.2" cy="712.9" r="6.9"/>
<circle cx="174.4" cy="712.9" r="6.9"/>
<circle cx="177.6" cy="712.9" r="6.9"/>
<circle cx="180.8" cy="712.9" r="6.9"/>
<circle cx="184.0" cy="712.9" r="6.9"/>
<circle cx="187.2" cy="712.9" r="6.9"/>
<circle cx="190.4" cy="712.9" r="6.9"/>
<circle cx="193.6" cy="712.9" r="6.9"/>
<circle cx="196.8" cy="712.9" r="6.9"/>
<circle cx="200.0" cy="712.9" r="6.9"/>
<circle cx="203.2" cy="712.9" r="6.9"/>
<circle cx="206.4" cy="712.9" r="6.9"/>
<circle cx="209.6" cy="712.9" r="6.9"/>
<circle cx="212.8" cy="712.9" r="6.9"/>
<circle cx="216.0" cy="712.9" r="6.9"/>
<circle cx="219.2" cy="712.9" r="6.9"/>
<circle cx="222.4" cy="712.9" r="6.9"/>
<circle cx="225.6" cy="712.9" r="6.9"/>
<circle cx="228.8" cy="712.9" r="6.9"/>
<circle cx="232.0" cy="712.9" r="6.9"/>
<circle cx="235.2" cy="712.9" r="6.9"/>
<circle cx="238.4" cy="712.9" r="6.9"/>
<circle cx="241.6" cy="712.9" r="6.9"/>
<circle cx="244.8" cy="712.9" r="6.9"/>
<circle cx="248.0" cy="712.9" r="6.9"/>
<circle cx="251.2" cy="712.9" r="6.9"/>
<circle cx="254.4" cy="712.9" r="6.9"/>
<circle cx="257.6" cy="712.9" r="6.9"/>
<circle cx="260.8" cy="712.9" r="6.9"/>
<circle cx="264.0" cy="712.9" r="6.9"/>
<circle cx="267.2" cy="712.9" r="6.9"/>
<circle cx="270.4" cy="712.9" r="6.9"/>
<circle cx="273.6" cy="712.9" r="6.9"/>
<circle cx="276.8" cy="712.9" r="6.9"/>
<circle cx="280.0" cy="712.9" r="6.9"/>
</g>
<g fill="#fff">
<ellipse cx="248.3" cy="280.2" rx="4.2" ry="1.2" transform="rotate(25 248.3 280.2)"/>
<ellipse cx="188" cy="294.6" rx="1.6" ry="1.3"/>
<ellipse cx="244.8" cy="578.5" rx="1.6" ry="4" transform="rotate(-20 244.8 578.5)"/>
<ellipse cx="247.5" cy="582.5" rx="3" ry="1.3" transform="rotate(25 247.5 582.5)"/>
<ellipse cx="210.5" cy="616.8" rx="3.4" ry="1.8"/>
<ellipse cx="196.5" cy="632.5" rx="1.7" ry="3.4"/>
<ellipse cx="254.8" cy="636.8" rx="2.4" ry="2.2"/>
<ellipse cx="229.2" cy="587.5" rx="0.9" ry="2.5"/>
</g>
<g fill="#39338d">
<circle cx="349.1" cy="42.95" r="6.9"/>
<circle cx="355.85" cy="56.45" r="6.9"/>
<circle cx="259.9" cy="95.2" r="6.9"/>
<circle cx="247.5" cy="112.5" r="6.9"/>
<circle cx="269" cy="109.7" r="6.9"/>
<circle cx="264.6" cy="126.3" r="6.9"/>
<circle cx="267.4" cy="134.5" r="6.9"/>
<circle cx="256.9" cy="139.9" r="6.9"/>
<circle cx="285.4" cy="130.3" r="6.9"/>
<circle cx="273.2" cy="143.8" r="6.9"/>
<circle cx="267.4" cy="151.4" r="6.9"/>
<circle cx="283.2" cy="151.4" r="6.9"/>
<circle cx="287.9" cy="160.3" r="6.9"/>
<circle cx="289.6" cy="166" r="6.9"/>
<circle cx="247.1" cy="164.4" r="6.9"/>
<circle cx="235.8" cy="172" r="6.9"/>
<circle cx="273.2" cy="176.5" r="6.9"/>
<circle cx="283.7" cy="175.9" r="6.9"/>
<circle cx="310.1" cy="120.9" r="6.9"/>
<circle cx="306.6" cy="132.1" r="6.9"/>
<circle cx="314.1" cy="129.8" r="6.9"/>
<circle cx="324.6" cy="124.7" r="6.9"/>
<circle cx="318.8" cy="143.8" r="6.9"/>
<circle cx="320" cy="152" r="6.9"/>
<circle cx="317.1" cy="157.9" r="6.9"/>
<circle cx="317.6" cy="164" r="6.9"/>
<circle cx="325.8" cy="166.8" r="6.9"/>
<circle cx="332.8" cy="170.8" r="6.9"/>
<circle cx="335.1" cy="150.4" r="6.9"/>
<circle cx="338.2" cy="127" r="6.9"/>
<circle cx="343.8" cy="120.5" r="6.9"/>
<circle cx="341" cy="136.8" r="6.9"/>
<circle cx="358" cy="120.9" r="6.9"/>
<circle cx="353.8" cy="137.5" r="6.9"/>
<circle cx="351.5" cy="171.2" r="6.9"/>
<circle cx="374.9" cy="168.5" r="6.9"/>
<circle cx="381.9" cy="115.8" r="6.9"/>
<circle cx="381.9" cy="120.5" r="6.9"/>
<circle cx="387.7" cy="114.6" r="6.9"/>
<circle cx="386.5" cy="136.8" r="6.9"/>
<circle cx="308.3" cy="181.5" r="6.9"/>
<circle cx="289.6" cy="180.4" r="6.9"/>
<circle cx="286.1" cy="190.9" r="6.9"/>
<circle cx="290.7" cy="185" r="6.9"/>
<circle cx="296.6" cy="204.9" r="6.9"/>
<circle cx="282.6" cy="207.2" r="6.9"/>
<circle cx="291.2" cy="210.7" r="6.9"/>
<circle cx="277.9" cy="219.6" r="6.9"/>
<circle cx="285.4" cy="220.8" r="6.9"/>
<circle cx="304.3" cy="231.8" r="6.9"/>
<circle cx="295.4" cy="241.1" r="6.9"/>
<circle cx="293.1" cy="245.8" r="6.9"/>
<circle cx="310.6" cy="257.9" r="6.9"/>
<circle cx="305.9" cy="270.3" r="6.9"/>
<circle cx="276.7" cy="271.5" r="6.9"/>
<circle cx="307.1" cy="188.6" r="6.9"/>
<circle cx="314.1" cy="192.1" r="6.9"/>
<circle cx="317.6" cy="199.1" r="6.9"/>
<circle cx="317.6" cy="207.2" r="6.9"/>
<circle cx="316" cy="216.6" r="6.9"/>
<circle cx="322.3" cy="172.2" r="6.9"/>
<circle cx="328.8" cy="183.9" r="6.9"/>
<circle cx="360.4" cy="186.2" r="6.9"/>
<circle cx="356.2" cy="208.4" r="6.9"/>
<circle cx="365" cy="235.3" r="6.9"/>
<circle cx="197.7" cy="167.9" r="6.9"/>
<circle cx="235.8" cy="171.9" r="6.9"/>
<circle cx="246.5" cy="164.4" r="6.9"/>
<circle cx="215.5" cy="277" r="6.9"/>
<circle cx="197.7" cy="567.9" r="6.9"/>
<circle cx="215.5" cy="582" r="6.9"/>
<circle cx="235.8" cy="506" r="6.9"/>
<circle cx="246.5" cy="498.6" r="6.9"/>
<circle cx="259.9" cy="433.4" r="6.9"/>
<circle cx="247.5" cy="453.9" r="6.9"/>
<circle cx="268.6" cy="459.1" r="6.9"/>
<circle cx="264.6" cy="464.2" r="6.9"/>
<circle cx="273.2" cy="470.7" r="6.9"/>
<circle cx="268.6" cy="480.1" r="6.9"/>
<circle cx="272.1" cy="489.4" r="6.9"/>
<circle cx="266.2" cy="494.1" r="6.9"/>
<circle cx="256.9" cy="498.3" r="6.9"/>
<circle cx="246.8" cy="498.3" r="6.9"/>
<circle cx="277.9" cy="500" r="6.9"/>
<circle cx="283.3" cy="509.3" r="6.9"/>
<circle cx="287.2" cy="468.4" r="6.9"/>
<circle cx="295.4" cy="468.4" r="6.9"/>
<circle cx="283.7" cy="475.4" r="6.9"/>
<circle cx="310.6" cy="438" r="6.9"/>
<circle cx="324.2" cy="439.9" r="6.9"/>
<circle cx="312.9" cy="447.4" r="6.9"/>
<circle cx="310.6" cy="456.3" r="6.9"/>
<circle cx="318.8" cy="457.9" r="6.9"/>
<circle cx="310.6" cy="471.2" r="6.9"/>
<circle cx="317.6" cy="475.4" r="6.9"/>
<circle cx="322.3" cy="480.1" r="6.9"/>
<circle cx="317.6" cy="485.9" r="6.9"/>
<circle cx="307.1" cy="496.4" r="6.9"/>
<circle cx="314.1" cy="496.4" r="6.9"/>
<circle cx="307.1" cy="504.6" r="6.9"/>
<circle cx="322.3" cy="504.6" r="6.9"/>
<circle cx="328.1" cy="496.4" r="6.9"/>
<circle cx="330.5" cy="480.1" r="6.9"/>
<circle cx="335.6" cy="470.3" r="6.9"/>
<circle cx="339.8" cy="480.1" r="6.9"/>
<circle cx="337.9" cy="452.1" r="6.9"/>
<circle cx="343.3" cy="455.6" r="6.9"/>
<circle cx="349.2" cy="449.3" r="6.9"/>
<circle cx="356.2" cy="450.2" r="6.9"/>
<circle cx="351.5" cy="471.9" r="6.9"/>
<circle cx="356.5" cy="472.5" r="6.9"/>
<circle cx="360.8" cy="478.9" r="6.9"/>
<circle cx="374.9" cy="483.1" r="6.9"/>
<circle cx="356.2" cy="504.6" r="6.9"/>
<circle cx="365" cy="517" r="6.9"/>
<circle cx="381.9" cy="435.7" r="6.9"/>
<circle cx="387.7" cy="429.9" r="6.9"/>
<circle cx="381.9" cy="445" r="6.9"/>
<circle cx="386.5" cy="440.4" r="6.9"/>
<circle cx="305.9" cy="512.8" r="6.9"/>
<circle cx="296.6" cy="517" r="6.9"/>
<circle cx="308.3" cy="519.8" r="6.9"/>
<circle cx="289.6" cy="524.5" r="6.9"/>
<circle cx="293.1" cy="530.3" r="6.9"/>
<circle cx="284.9" cy="538" r="6.9"/>
<circle cx="306.6" cy="546.2" r="6.9"/>
<circle cx="304.3" cy="561.9" r="6.9"/>
<circle cx="257.6" cy="551.4" r="6.9"/>
<circle cx="287.2" cy="573.9" r="6.9"/>
<circle cx="276.7" cy="584.4" r="6.9"/>
<circle cx="284.9" cy="582.1" r="6.9"/>
<circle cx="291.2" cy="589.5" r="6.9"/>
<circle cx="281.9" cy="595.6" r="6.9"/>
<circle cx="304.6" cy="659.9" r="6.9"/>
</g>
<g stroke="#050505" stroke-linecap="butt">
<line x1="71.4" y1="335.4" x2="84.8" y2="335.4" stroke-width="1.6"/>
<line x1="71.4" y1="299.2" x2="84.8" y2="299.2" stroke-width="1.6"/>
<line x1="71.4" y1="262.9" x2="84.8" y2="262.9" stroke-width="1.6"/>
<line x1="71.4" y1="226.6" x2="84.8" y2="226.6" stroke-width="1.6"/>
<line x1="71.4" y1="190.4" x2="84.8" y2="190.4" stroke-width="1.6"/>
<line x1="71.4" y1="154.1" x2="84.8" y2="154.1" stroke-width="1.6"/>
<line x1="71.4" y1="117.8" x2="84.8" y2="117.8" stroke-width="1.6"/>
<line x1="71.4" y1="81.5" x2="84.8" y2="81.5" stroke-width="1.6"/>
<line x1="71.4" y1="45.3" x2="84.8" y2="45.3" stroke-width="1.6"/>
<line x1="71.4" y1="714.7" x2="84.8" y2="714.7" stroke-width="1.6"/>
<line x1="71.4" y1="674.3" x2="84.8" y2="674.3" stroke-width="1.6"/>
<line x1="71.4" y1="634.0" x2="84.8" y2="634.0" stroke-width="1.6"/>
<line x1="71.4" y1="593.7" x2="84.8" y2="593.7" stroke-width="1.6"/>
<line x1="71.4" y1="553.3" x2="84.8" y2="553.3" stroke-width="1.6"/>
<line x1="71.4" y1="513.0" x2="84.8" y2="513.0" stroke-width="1.6"/>
<line x1="71.4" y1="472.7" x2="84.8" y2="472.7" stroke-width="1.6"/>
<line x1="71.4" y1="432.3" x2="84.8" y2="432.3" stroke-width="1.6"/>
<line x1="456.2" y1="335.4" x2="469.6" y2="335.4" stroke-width="1.6"/>
<line x1="456.2" y1="299.2" x2="469.6" y2="299.2" stroke-width="1.6"/>
<line x1="456.2" y1="262.9" x2="469.6" y2="262.9" stroke-width="1.6"/>
<line x1="456.2" y1="226.6" x2="469.6" y2="226.6" stroke-width="1.6"/>
<line x1="456.2" y1="190.4" x2="469.6" y2="190.4" stroke-width="1.6"/>
<line x1="456.2" y1="154.1" x2="469.6" y2="154.1" stroke-width="1.6"/>
<line x1="456.2" y1="117.8" x2="469.6" y2="117.8" stroke-width="1.6"/>
<line x1="456.2" y1="81.5" x2="469.6" y2="81.5" stroke-width="1.6"/>
<line x1="456.2" y1="45.3" x2="469.6" y2="45.3" stroke-width="1.6"/>
<line x1="456.2" y1="714.7" x2="469.6" y2="714.7" stroke-width="1.6"/>
<line x1="456.2" y1="674.3" x2="469.6" y2="674.3" stroke-width="1.6"/>
<line x1="456.2" y1="634.0" x2="469.6" y2="634.0" stroke-width="1.6"/>
<line x1="456.2" y1="593.7" x2="469.6" y2="593.7" stroke-width="1.6"/>
<line x1="456.2" y1="553.3" x2="469.6" y2="553.3" stroke-width="1.6"/>
<line x1="456.2" y1="513.0" x2="469.6" y2="513.0" stroke-width="1.6"/>
<line x1="456.2" y1="472.7" x2="469.6" y2="472.7" stroke-width="1.6"/>
<line x1="456.2" y1="432.3" x2="469.6" y2="432.3" stroke-width="1.6"/>
<line x1="144.1" y1="371.7" x2="144.1" y2="358.3" stroke-width="1.6"/>
<line x1="216.8" y1="371.7" x2="216.8" y2="358.3" stroke-width="1.6"/>
<line x1="289.6" y1="371.7" x2="289.6" y2="358.3" stroke-width="1.6"/>
<line x1="362.3" y1="371.7" x2="362.3" y2="358.3" stroke-width="1.6"/>
<line x1="532.0" y1="371.7" x2="532.0" y2="358.3" stroke-width="1.6"/>
<line x1="607.5" y1="371.7" x2="607.5" y2="358.3" stroke-width="1.6"/>
<line x1="144.1" y1="755.0" x2="144.1" y2="741.6" stroke-width="1.6"/>
<line x1="216.8" y1="755.0" x2="216.8" y2="741.6" stroke-width="1.6"/>
<line x1="289.6" y1="755.0" x2="289.6" y2="741.6" stroke-width="1.6"/>
<line x1="362.3" y1="755.0" x2="362.3" y2="741.6" stroke-width="1.6"/>
<line x1="532.0" y1="755.0" x2="532.0" y2="741.6" stroke-width="1.6"/>
<line x1="607.5" y1="755.0" x2="607.5" y2="741.6" stroke-width="1.6"/>
<line x1="114.1" y1="316.9" x2="414.4" y2="109.7" stroke-width="1.6"/>
<line x1="148.4" y1="736.5" x2="388.6" y2="431.2" stroke-width="1.6"/>
</g>
<rect x="71.4" y="9.0" width="363.6" height="362.7" fill="none" stroke="#050505" stroke-width="1.6"/>
<rect x="71.4" y="392.0" width="363.6" height="363.0" fill="none" stroke="#050505" stroke-width="1.6"/>
<rect x="456.2" y="9.0" width="227.4" height="362.7" fill="none" stroke="#050505" stroke-width="1.6"/>
<rect x="456.2" y="392.0" width="227.4" height="363.0" fill="none" stroke="#050505" stroke-width="1.6"/>
<!-- box plots -->
<g stroke="#050505" stroke-width="1.7" fill="none">
<line x1="532" y1="159" x2="532" y2="338.5"/><line x1="517.7" y1="159" x2="546.3" y2="159"/><line x1="517.7" y1="338.5" x2="546.3" y2="338.5"/>
<line x1="607.7" y1="43" x2="607.7" y2="277.6"/><line x1="593.1" y1="43" x2="622.1" y2="43"/><line x1="593.1" y1="277.6" x2="622.1" y2="277.6"/>
<line x1="532.2" y1="466" x2="532.2" y2="712.6"/><line x1="517.9" y1="466" x2="546.6" y2="466"/>
<line x1="607.6" y1="430" x2="607.6" y2="589.5"/><line x1="593.2" y1="430" x2="622" y2="430"/><line x1="593.2" y1="589.5" x2="622" y2="589.5"/>
</g>
<rect x="504.5" y="224.9" width="54.9" height="46.5" fill="#68b2ab"/>
<rect x="580.3" y="132.9" width="54.8" height="64.3" fill="#39338d"/>
<rect x="504.6" y="607" width="54.8" height="106.4" fill="#68b2ab"/>
<rect x="581" y="468.4" width="54.3" height="48.8" fill="#39338d"/>
<g stroke="#000" stroke-width="3.2">
<line x1="504.5" y1="251.8" x2="559.4" y2="251.8"/><line x1="580.3" y1="167.3" x2="635.1" y2="167.3"/>
<line x1="504.6" y1="655.5" x2="559.4" y2="655.5"/><line x1="581" y1="485.7" x2="635.3" y2="485.7"/>
</g>
<line x1="517.9" y1="713" x2="546.6" y2="713" stroke="#050505" stroke-width="1.7"/>
<g stroke="#050505" stroke-width="1.6" fill="#fff">
<circle cx="532" cy="136.1" r="4.9"/><circle cx="532" cy="146.7" r="4.9"/><circle cx="532" cy="148.2" r="4.9"/><circle cx="532" cy="150" r="4.9"/><circle cx="532" cy="154.1" r="4.9"/>
<circle cx="607.7" cy="595.8" r="5"/><circle cx="607.8" cy="660.6" r="5"/>
</g>
<text x="49.41" y="375.6" font-size="18.5" fill="#111">0</text>
<path d="M763 0H583V1147Q518 1085 412.5 1023T223 930V1104Q374 1175 487 1276T647 1472H763Z" fill="#111" transform="translate(49.41,339.5) scale(0.009033,-0.009304)"/>
<text x="49.41" y="303.4" font-size="18.5" fill="#111">2</text>
<text x="49.41" y="267.3" font-size="18.5" fill="#111">3</text>
<text x="49.41" y="231.1" font-size="18.5" fill="#111">4</text>
<text x="49.41" y="195.0" font-size="18.5" fill="#111">5</text>
<text x="49.41" y="158.9" font-size="18.5" fill="#111">6</text>
<text x="49.41" y="122.8" font-size="18.5" fill="#111">7</text>
<text x="49.41" y="86.7" font-size="18.5" fill="#111">8</text>
<text x="49.41" y="50.6" font-size="18.5" fill="#111">9</text>
<path d="M763 0H583V1147Q518 1085 412.5 1023T223 930V1104Q374 1175 487 1276T647 1472H763Z" fill="#111" transform="translate(42.42,14.4) scale(0.009033,-0.009304)"/>
<text x="52.71" y="14.4" font-size="18.5" fill="#111">0</text>
<text x="44.15" y="761.4" font-size="18.5" fill="#111">-6</text>
<text x="44.15" y="721.3" font-size="18.5" fill="#111">-4</text>
<text x="44.15" y="681.3" font-size="18.5" fill="#111">-2</text>
<text x="49.41" y="641.2" font-size="18.5" fill="#111">0</text>
<text x="49.41" y="601.2" font-size="18.5" fill="#111">2</text>
<text x="49.41" y="561.1" font-size="18.5" fill="#111">4</text>
<text x="49.41" y="521.0" font-size="18.5" fill="#111">6</text>
<text x="49.41" y="481.0" font-size="18.5" fill="#111">8</text>
<path d="M763 0H583V1147Q518 1085 412.5 1023T223 930V1104Q374 1175 487 1276T647 1472H763Z" fill="#111" transform="translate(42.42,440.9) scale(0.009033,-0.009304)"/>
<text x="52.71" y="440.9" font-size="18.5" fill="#111">0</text>
<path d="M763 0H583V1147Q518 1085 412.5 1023T223 930V1104Q374 1175 487 1276T647 1472H763Z" fill="#111" transform="translate(42.42,400.9) scale(0.009033,-0.009304)"/>
<text x="52.71" y="400.9" font-size="18.5" fill="#111">2</text>
<text x="66.56" y="775.8" font-size="18.5" fill="#111">2</text>
<text x="139.26" y="775.8" font-size="18.5" fill="#111">4</text>
<text x="211.96" y="775.8" font-size="18.5" fill="#111">6</text>
<text x="284.76" y="775.8" font-size="18.5" fill="#111">8</text>
<path d="M763 0H583V1147Q518 1085 412.5 1023T223 930V1104Q374 1175 487 1276T647 1472H763Z" fill="#111" transform="translate(352.31,775.8) scale(0.009033,-0.009304)"/>
<text x="362.60" y="775.8" font-size="18.5" fill="#111">0</text>
<path d="M763 0H583V1147Q518 1085 412.5 1023T223 930V1104Q374 1175 487 1276T647 1472H763Z" fill="#111" transform="translate(425.01,775.8) scale(0.009033,-0.009304)"/>
<text x="435.30" y="775.8" font-size="18.5" fill="#111">2</text>
<text transform="translate(105.4,54.1) skewX(-3) scale(1.03,1)" font-size="29" fill="#c0392b">ρ</text>
<text x="128.4" y="53" font-size="23.5" fill="#c0392b" textLength="68.2" lengthAdjust="spacingAndGlyphs">= 0.65</text>
<text transform="translate(105.4,437.4) skewX(-3) scale(1.03,1)" font-size="29" fill="#c0392b">ρ</text>
<text x="128.40" y="436.3" font-size="23.5" fill="#c0392b" textLength="54.70" lengthAdjust="spacingAndGlyphs">= 0.6</text>
<path d="M763 0H583V1147Q518 1085 412.5 1023T223 930V1104Q374 1175 487 1276T647 1472H763Z" fill="#c0392b" transform="translate(183.10,436.3) scale(0.011861,-0.011819)"/>
<text x="488" y="52.8" font-size="23.5" fill="#c0392b" textLength="90.6" lengthAdjust="spacingAndGlyphs">P &lt; 0.05</text>
<text x="488" y="428.3" font-size="23.5" fill="#c0392b" textLength="90.6" lengthAdjust="spacingAndGlyphs">P &lt; 0.05</text>
<text transform="translate(503.8,797.5) scale(0.99,1.035)" font-size="32" fill="#111" stroke="#111" stroke-width="0.35">MW</text>
<text transform="translate(588.9,797.5) scale(0.99,1.035)" font-size="32" fill="#111" stroke="#111" stroke-width="0.35">LW</text>
<text transform="translate(131.7,820.6) scale(1,1.035)" font-size="32" fill="#111" stroke="#111" stroke-width="0.35">Log [EC(<tspan font-family="Liberation Serif, serif" font-size="36" stroke="none">μ</tspan>S/cm)]</text>
<text transform="translate(24.6,264.5) rotate(-90) scale(1,1.035)" font-size="32" fill="#111" stroke="#111" stroke-width="0.35">Log [Cl<tspan font-size="18" dy="-9.3">-</tspan><tspan dy="9.3">(mg/L)]</tspan></text>
<text transform="translate(24.6,713.2) rotate(-90) scale(1,1.035)" font-size="32" fill="#111" stroke="#111" stroke-width="0.35">Log [NH<tspan font-size="18" dy="7">4</tspan><tspan font-size="18" dy="-17.5" dx="2">+</tspan><tspan dy="10.5">-N(mg/L)]</tspan></text>
</svg>
</body></html>
